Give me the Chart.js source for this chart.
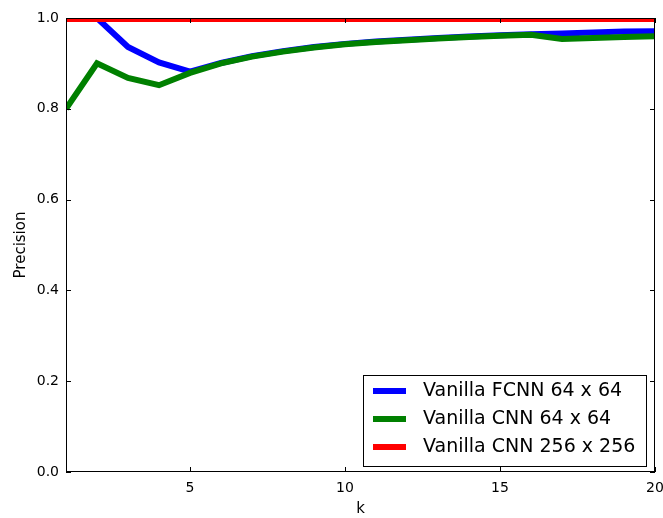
<!DOCTYPE html>
<html>
<head>
<meta charset="utf-8">
<script src="https://cdn.jsdelivr.net/npm/chart.js@4.4.0/dist/chart.umd.min.js"></script>
<style>
  html, body { margin: 0; padding: 0; background: #fff; }
  #wrap { width: 663px; height: 518px; }
</style>
</head>
<body>
<div id="wrap"><canvas id="chart" width="663" height="518"></canvas></div>
<script>
const kValues = [1, 2, 3, 4, 5, 6, 7, 8, 9, 10, 11, 12, 13, 14, 15, 16, 17, 18, 19, 20];
const fcnn64 = [1.0, 1.0, 0.936, 0.902, 0.882, 0.901, 0.916, 0.927, 0.936, 0.943, 0.948, 0.952, 0.956, 0.959, 0.962, 0.964, 0.966, 0.968, 0.970, 0.971];
const cnn64 = [0.80, 0.90, 0.868, 0.852, 0.879, 0.900, 0.915, 0.926, 0.935, 0.942, 0.947, 0.951, 0.955, 0.958, 0.961, 0.963, 0.954, 0.956, 0.958, 0.960];
const cnn256 = [1.0, 1.0, 1.0, 1.0, 1.0, 1.0, 1.0, 1.0, 1.0, 1.0, 1.0, 1.0, 1.0, 1.0, 1.0, 1.0, 1.0, 1.0, 1.0, 1.0];
const seriesNames = ['Vanilla FCNN 64 x 64', 'Vanilla CNN 64 x 64', 'Vanilla CNN 256 x 256'];
const seriesColors = ['#0000ff', '#008000', '#ff0000'];
const xTicks = [5, 10, 15, 20];
const yTicks = [0, 0.2, 0.4, 0.6, 0.8, 1.0];

const FONT = 'DejaVu Sans';

function points(vals) {
    return kValues.map((k, i) => ({ x: k, y: vals[i] }));
}

// matplotlib-ish frame: box + inward ticks on all four sides
const framePlugin = {
    id: 'frame',
    afterDatasetsDraw(chart) {
        const { ctx, chartArea: a, scales } = chart;
        ctx.save();
        ctx.strokeStyle = '#000';
        ctx.lineWidth = 1;
        ctx.strokeRect(a.left + 0.5, a.top + 0.5, a.right - a.left - 1, a.bottom - a.top - 1);
        ctx.beginPath();
        xTicks.forEach(t => {
            const x = Math.round(scales.x.getPixelForValue(t)) + 0.5;
            ctx.moveTo(x, a.bottom); ctx.lineTo(x, a.bottom - 5);
            ctx.moveTo(x, a.top); ctx.lineTo(x, a.top + 5);
        });
        yTicks.forEach(t => {
            const y = Math.round(scales.y.getPixelForValue(t)) + 0.5;
            ctx.moveTo(a.left, y); ctx.lineTo(a.left + 5, y);
            ctx.moveTo(a.right, y); ctx.lineTo(a.right - 5, y);
        });
        ctx.stroke();
        ctx.restore();
    }
};

// legend box in the lower right corner of the plot
const boxLegend = {
    id: 'boxLegend',
    afterDraw(chart) {
        const { ctx, chartArea: a } = chart;
        const w = 283, h = 91;
        const x0 = a.right - 9 - w, y0 = a.bottom - 6 - h;
        ctx.save();
        ctx.fillStyle = '#fff';
        ctx.fillRect(x0, y0, w, h);
        ctx.strokeStyle = '#000';
        ctx.lineWidth = 1;
        ctx.strokeRect(x0 + 0.5, y0 + 0.5, w, h);
        ctx.font = '19px ' + FONT;
        ctx.textBaseline = 'middle';
        seriesNames.forEach((name, i) => {
            const y = y0 + 16 + i * 28;
            ctx.strokeStyle = seriesColors[i];
            ctx.lineWidth = 6;
            ctx.beginPath();
            ctx.moveTo(x0 + 10, y); ctx.lineTo(x0 + 43, y);
            ctx.stroke();
            ctx.fillStyle = '#000';
            ctx.fillText(name, x0 + 60, y);
        });
        ctx.restore();
    }
};

const allSeries = [fcnn64, cnn64, cnn256];

new Chart(document.getElementById('chart'), {
    type: 'line',
    data: {
        datasets: allSeries.map((vals, i) => ({
            label: seriesNames[i],
            data: points(vals),
            borderColor: seriesColors[i],
            backgroundColor: seriesColors[i],
            borderWidth: i === 2 ? 8 : 6,
            pointRadius: 0,
            tension: 0,
            clip: 0,
            order: 2 - i
        }))
    },
    options: {
        responsive: false,
        animation: false,
        events: [],
        layout: { padding: { top: 18, right: 8, left: 0, bottom: 0 } },
        plugins: { legend: { display: false }, tooltip: { enabled: false } },
        scales: {
            x: {
                type: 'linear',
                min: 1, max: 20,
                grid: { display: false, drawTicks: false },
                border: { display: false },
                afterBuildTicks: s => { s.ticks = xTicks.map(v => ({ value: v })); },
                afterFit: s => { s.height = 46; s.paddingLeft = 0; s.paddingRight = 0; },
                ticks: { color: '#000', font: { family: FONT, size: 14 }, padding: 8, maxRotation: 0 },
                title: { display: true, text: 'k', color: '#000', font: { family: FONT, size: 15 }, padding: { top: 0, bottom: 0 } }
            },
            y: {
                min: 0, max: 1,
                grid: { display: false, drawTicks: false },
                border: { display: false },
                afterBuildTicks: s => { s.ticks = yTicks.map(v => ({ value: v })); },
                afterFit: s => { s.width = 66; s.paddingTop = 0; s.paddingBottom = 0; },
                ticks: { color: '#000', font: { family: FONT, size: 14 }, padding: 7, callback: v => v.toFixed(1) },
                title: { display: true, text: 'Precision', color: '#000', font: { family: FONT, size: 15 }, padding: { top: 12, bottom: 4 } }
            }
        }
    },
    plugins: [framePlugin, boxLegend]
});
</script>
</body>
</html>
